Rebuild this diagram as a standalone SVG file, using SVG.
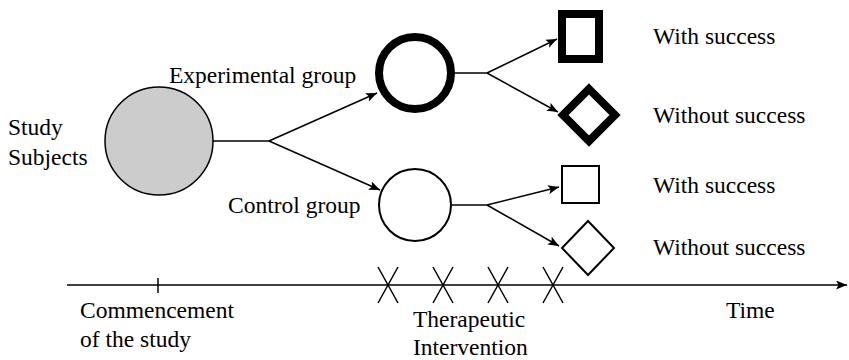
<svg xmlns="http://www.w3.org/2000/svg" width="849" height="360" viewBox="0 0 849 360">
<style>
text{font-family:"Liberation Serif","Times New Roman",serif;font-size:23.5px;fill:#000}
.c{stroke:#000;stroke-width:1.5;fill:none}
.thin{stroke:#000;stroke-width:2;fill:#fff}
.thick{stroke:#000;stroke-width:8;fill:#fff}
</style>
<defs>
<marker id="ah" markerUnits="userSpaceOnUse" markerWidth="11" markerHeight="9" viewBox="0 0 11 9" refX="11" refY="4.5" orient="auto">
<path d="M0,0 L11,4.5 L0,9 L2.5,4.5 Z" fill="#000"/>
</marker>
</defs>
<g id="connectors">
<polyline class="c" points="213,141 269,141"/>
<line class="c" x1="269" y1="141" x2="377" y2="93" marker-end="url(#ah)"/>
<line class="c" x1="269" y1="141" x2="380" y2="190" marker-end="url(#ah)"/>
<line class="c" x1="453" y1="73" x2="487" y2="73"/>
<line class="c" x1="487" y1="73" x2="557" y2="39" marker-end="url(#ah)"/>
<line class="c" x1="487" y1="73" x2="558" y2="112" marker-end="url(#ah)"/>
<line class="c" x1="452" y1="205" x2="487" y2="205"/>
<line class="c" x1="487" y1="205" x2="559" y2="187" marker-end="url(#ah)"/>
<line class="c" x1="487" y1="205" x2="559" y2="246" marker-end="url(#ah)"/>
</g>
<g id="subjects">
<circle cx="159" cy="141" r="54" fill="#cccccc" stroke="#000" stroke-width="1.5"/>
<text x="8" y="135">Study</text>
<text x="8" y="165">Subjects</text>
</g>
<g id="experimental">
<circle class="thick" cx="415" cy="73" r="36"/>
<text x="169" y="83">Experimental group</text>
</g>
<g id="control">
<circle class="thin" cx="415" cy="205" r="36"/>
<text x="228" y="213">Control group</text>
</g>
<g id="exp-success">
<rect class="thick" x="562" y="14" width="37" height="45"/>
<text x="653" y="44">With success</text>
</g>
<g id="exp-failure">
<path class="thick" d="M589,89 L615,115 L589,141 L563,115 Z"/>
<text x="653" y="123">Without success</text>
</g>
<g id="ctrl-success">
<rect class="thin" x="562" y="166" width="37" height="37"/>
<text x="653" y="193">With success</text>
</g>
<g id="ctrl-failure">
<path class="thin" d="M588,221 L614,248 L588,275 L562,248 Z"/>
<text x="653" y="255">Without success</text>
</g>
<g id="timeline">
<line class="c" x1="67" y1="285" x2="847" y2="285" marker-end="url(#ah)"/>
<line class="c" x1="158" y1="278" x2="158" y2="293"/>
<path class="c" d="M378,267 L398,303 M398,267 L378,303 M433,267 L453,303 M453,267 L433,303 M488,267 L508,303 M508,267 L488,303 M543,267 L563,303 M563,267 L543,303"/>
<text x="80" y="318">Commencement</text>
<text x="80" y="347">of the study</text>
<text x="413" y="327">Therapeutic</text>
<text x="413" y="355">Intervention</text>
<text x="726" y="318">Time</text>
</g>
</svg>
